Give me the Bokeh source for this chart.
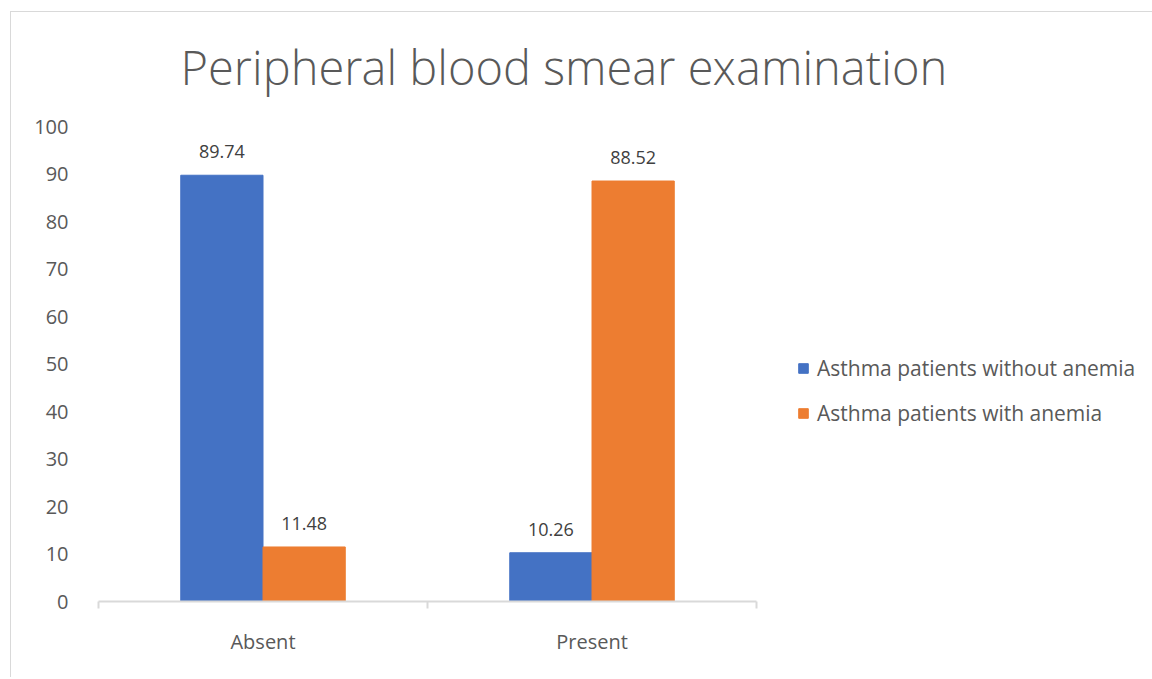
from bokeh.plotting import figure
from bokeh.models import ColumnDataSource, Range1d, FixedTicker, Legend, LegendItem, LabelSet, Title
from bokeh.core.properties import value
from bokeh.embed import file_html
from bokeh.resources import INLINE

categories = ["Absent", "Present"]
without_anemia = [89.74, 10.26]
with_anemia = [11.48, 88.52]
series_names = ["Asthma patients without anemia", "Asthma patients with anemia"]
y_ticks = [0, 10, 20, 30, 40, 50, 60, 70, 80, 90, 100]

BLUE = "#4472C4"
ORANGE = "#ED7D31"
FONT = "Open Sans"

centers = [i + 0.5 for i in range(len(categories))]
src1 = ColumnDataSource(dict(x=[c - 0.125 for c in centers], top=without_anemia,
                             lab=[f"{v:.2f}" for v in without_anemia]))
src2 = ColumnDataSource(dict(x=[c + 0.125 for c in centers], top=with_anemia,
                             lab=[f"{v:.2f}" for v in with_anemia]))

p = figure(width=1150, height=677, output_backend="svg", toolbar_location=None,
           x_range=Range1d(0, len(categories)), y_range=Range1d(0, 100),
           min_border_left=98, min_border_right=394, min_border_top=126, min_border_bottom=76)
p.frame_width = 658
p.frame_height = 475
p.outline_line_color = None
p.xgrid.visible = False
p.ygrid.visible = False
p.background_fill_color = "white"
p.border_fill_color = None
p.styles = {"background": "linear-gradient(#d9d9d9,#d9d9d9) 10px 11px / calc(100% - 10px) 1px no-repeat, "
                          "linear-gradient(#d9d9d9,#d9d9d9) 10px 11px / 1px calc(100% - 11px) no-repeat, #ffffff"}

r1 = p.vbar(x="x", top="top", width=0.25, source=src1, color=BLUE)
r2 = p.vbar(x="x", top="top", width=0.25, source=src2, color=ORANGE)

for s in (src1, src2):
    p.add_layout(LabelSet(x="x", y="top", text="lab", source=s, text_align="center",
                          text_baseline="bottom", y_offset=17, text_font=value(FONT),
                          text_font_size="18px", text_color="#404040"))

xa = p.xaxis[0]
xa.ticker = FixedTicker(ticks=centers, minor_ticks=[i for i in range(len(categories) + 1)])
xa.major_label_overrides = {c: n for c, n in zip(centers, categories)}
xa.major_tick_line_color = None
xa.minor_tick_out = 7
xa.minor_tick_in = 0
xa.minor_tick_line_color = "#d9d9d9"
xa.axis_line_color = "#d9d9d9"
xa.axis_line_width = 2
xa.minor_tick_line_width = 2
xa.major_label_standoff = 19
xa.major_label_text_font = FONT
xa.major_label_text_font_size = "20px"
xa.major_label_text_color = "#595959"

ya = p.yaxis[0]
ya.ticker = FixedTicker(ticks=y_ticks)
ya.axis_line_color = None
ya.major_tick_line_color = None
ya.minor_tick_line_color = None
ya.major_label_standoff = 24
ya.major_label_text_font = FONT
ya.major_label_text_font_size = "20px"
ya.major_label_text_color = "#595959"

title = Title(text="Peripheral blood smear examination", align="left", offset=82,
              standoff=55, text_font="Open Sans Light", text_font_size="47px",
              text_font_style="normal", text_color="#595959")
p.add_layout(title, "above")

legend = Legend(items=[LegendItem(label=series_names[0], renderers=[r1]),
                       LegendItem(label=series_names[1], renderers=[r2])],
                location=(41, 174), orientation="vertical",
                glyph_width=12, glyph_height=12, label_standoff=8, spacing=17,
                label_text_font=FONT, label_text_font_size="21px", label_text_color="#595959",
                border_line_color=None, background_fill_alpha=0, padding=0, margin=0)
p.add_layout(legend, "right")

open("out.html", "w").write(file_html(p, INLINE))
